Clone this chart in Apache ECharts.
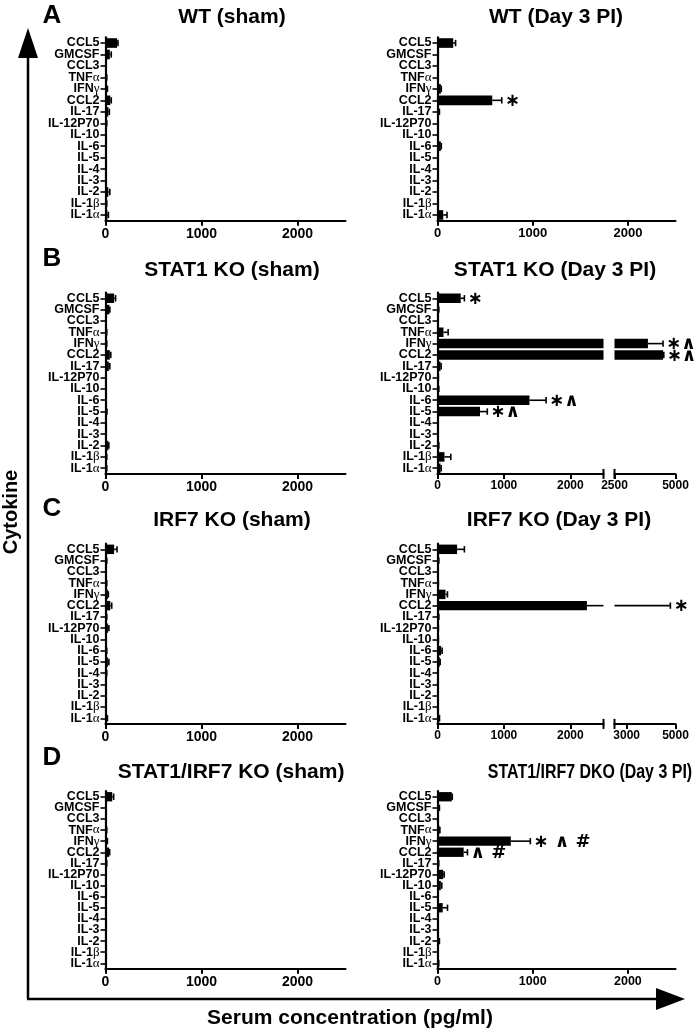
<!DOCTYPE html>
<html><head><meta charset="utf-8">
<script src="https://cdn.jsdelivr.net/npm/echarts@6/dist/echarts.min.js"></script>
<style>html,body{margin:0;padding:0;background:#fff}#c{width:700px;height:1030px}</style>
</head><body><div id="c"></div><script>
// ---------- DATA ----------
const categories = ['CCL5','GMCSF','CCL3','TNFα','IFNγ','CCL2','IL-17','IL-12P70','IL-10','IL-6','IL-5','IL-4','IL-3','IL-2','IL-1β','IL-1α'];
const xTicksMain = [0, 1000, 2000];
const xTicksBreakB = [2500, 5000];
const xTicksBreakC = [3000, 5000];

const wtShamMean    = [120, 45, 5, 10, 15, 50, 30, 10, 5, 5, 5, 5, 5, 30, 10, 20];
const wtShamErr     = [10, 15, 2, 3, 5, 10, 10, 3, 2, 2, 2, 2, 2, 15, 3, 10];
const wtShamMarks   = ['', '', '', '', '', '', '', '', '', '', '', '', '', '', '', ''];

const wtDay3Mean    = [165, 5, 3, 5, 35, 575, 15, 5, 5, 35, 5, 3, 3, 5, 5, 60];
const wtDay3Err     = [25, 3, 1, 2, 5, 100, 5, 2, 2, 5, 2, 1, 1, 2, 2, 40];
const wtDay3Marks   = ['', '', '', '', '', '*', '', '', '', '', '', '', '', '', '', ''];

const stat1ShamMean = [90, 40, 5, 10, 10, 45, 35, 5, 5, 5, 10, 5, 5, 30, 10, 10];
const stat1ShamErr  = [15, 5, 2, 3, 3, 10, 10, 2, 2, 2, 5, 2, 2, 5, 3, 3];
const stat1ShamMarks= ['', '', '', '', '', '', '', '', '', '', '', '', '', '', '', ''];

const stat1Day3Mean = [350, 15, 5, 90, 3870, 4490, 45, 10, 15, 1385, 640, 5, 5, 15, 105, 45];
const stat1Day3Err  = [55, 5, 2, 70, 620, 30, 10, 3, 5, 250, 110, 2, 2, 5, 95, 10];
const stat1Day3Marks= ['*', '', '', '', '*^', '*^', '', '', '', '*^', '*^', '', '', '', '', ''];

const irf7ShamMean  = [90, 10, 5, 10, 25, 50, 10, 25, 5, 10, 25, 10, 5, 5, 5, 15];
const irf7ShamErr   = [30, 3, 2, 3, 5, 15, 3, 10, 2, 3, 10, 3, 2, 2, 2, 5];
const irf7ShamMarks = ['', '', '', '', '', '', '', '', '', '', '', '', '', '', '', ''];

const irf7Day3Mean  = [295, 15, 5, 10, 120, 2250, 15, 10, 10, 55, 35, 5, 5, 5, 5, 25];
const irf7Day3Err   = [110, 5, 2, 3, 30, 2540, 5, 3, 3, 15, 5, 2, 2, 2, 2, 5];
const irf7Day3Marks = ['', '', '', '', '', '*', '', '', '', '', '', '', '', '', '', ''];

const dkoShamMean   = [70, 5, 5, 10, 15, 38, 10, 5, 5, 5, 5, 5, 5, 5, 5, 5];
const dkoShamErr    = [15, 2, 2, 3, 5, 5, 3, 2, 2, 2, 2, 2, 2, 2, 2, 2];
const dkoShamMarks  = ['', '', '', '', '', '', '', '', '', '', '', '', '', '', '', ''];

const dkoDay3Mean   = [150, 15, 5, 20, 770, 275, 10, 60, 35, 5, 55, 5, 5, 15, 5, 10];
const dkoDay3Err    = [5, 5, 2, 5, 205, 40, 3, 10, 10, 2, 50, 2, 2, 5, 2, 3];
const dkoDay3Marks  = ['', '', '', '', '* ^ #', '^ #', '', '', '', '', '', '', '', '', '', ''];

const panelTitles = ['WT (sham)', 'WT (Day 3 PI)', 'STAT1 KO (sham)', 'STAT1 KO (Day 3 PI)',
  'IRF7 KO (sham)', 'IRF7 KO (Day 3 PI)', 'STAT1/IRF7 KO (sham)', 'STAT1/IRF7 DKO (Day 3 PI)'];
const panelLetters = ['A', 'B', 'C', 'D'];
const yAxisTitle = 'Cytokine';
const xAxisTitle = 'Serum concentration (pg/ml)';

// ---------- LAYOUT ----------
const FONT = '"Liberation Sans", Arial, Helvetica, sans-serif';
const rows = [
  {top: 37.3, h: 183.4, titleY: 17, letterY: 16},
  {top: 292.6, h: 181.3, titleY: 270, letterY: 259},
  {top: 543.7, h: 180.2, titleY: 520, letterY: 509},
  {top: 791.2, h: 177.6, titleY: 772, letterY: 758}
];
const leftSeg = (fs) => [{left: 105.5, width: 240, min: 0, max: 2500, ticks: xTicksMain, fs: fs}];
const rightSeg = (fs) => [{left: 437.5, width: 238, min: 0, max: 2500, ticks: xTicksMain, fs: fs}];
const brokenSeg = (t2) => [
  {left: 437.5, width: 166, min: 0, max: 2500, ticks: xTicksMain, fs: 12, capEnd: true},
  {left: 614.5, width: 61, min: 2500, max: 5000, ticks: t2, fs: 12, capStart: true}
];

const panels = [
  {row: 0, title: panelTitles[0], tx: 232, mean: wtShamMean, err: wtShamErr, marks: wtShamMarks, segs: leftSeg(14)},
  {row: 0, title: panelTitles[1], tx: 556, mean: wtDay3Mean, err: wtDay3Err, marks: wtDay3Marks, segs: rightSeg(13)},
  {row: 1, title: panelTitles[2], tx: 232, mean: stat1ShamMean, err: stat1ShamErr, marks: stat1ShamMarks, segs: leftSeg(14)},
  {row: 1, title: panelTitles[3], tx: 555, mean: stat1Day3Mean, err: stat1Day3Err, marks: stat1Day3Marks, segs: brokenSeg(xTicksBreakB)},
  {row: 2, title: panelTitles[4], tx: 232, mean: irf7ShamMean, err: irf7ShamErr, marks: irf7ShamMarks, segs: leftSeg(14)},
  {row: 2, title: panelTitles[5], tx: 559, mean: irf7Day3Mean, err: irf7Day3Err, marks: irf7Day3Marks, segs: brokenSeg(xTicksBreakC)},
  {row: 3, title: panelTitles[6], tx: 231, mean: dkoShamMean, err: dkoShamErr, marks: dkoShamMarks, segs: leftSeg(14)},
  {row: 3, title: panelTitles[7], tx: 590, mean: dkoDay3Mean, err: dkoDay3Err, marks: dkoDay3Marks, segs: rightSeg(12.5), titleScale: 0.76}
];

const grids = [], xAxes = [], yAxes = [], series = [], graphics = [];
const markText = s => s.replace(/\*/g, '\u2217').replace(/\^/g, '\u2227');

function makeRender(seg, mean, err, marks) {
  return function (params, api) {
    const v = api.value(0), i = api.value(1), e = api.value(2);
    const hi = v + e;
    const lo = Math.max(v, seg.min);
    const hiC = Math.min(hi, seg.max);
    const children = [];
    if (hiC > lo) {
      const p1 = api.coord([lo, i]);
      const p2 = api.coord([hiC, i]);
      children.push({type: 'line', shape: {x1: p1[0], y1: p1[1], x2: p2[0], y2: p2[1]},
        style: {stroke: '#000', lineWidth: 1.6}});
      if (hi <= seg.max) {
        children.push({type: 'line', shape: {x1: p2[0], y1: p2[1] - 3.2, x2: p2[0], y2: p2[1] + 3.2},
          style: {stroke: '#000', lineWidth: 1.6}});
      }
    }
    const m = marks[params.dataIndex];
    if (m && hi >= seg.min && hi <= seg.max) {
      const p = api.coord([hi, i]);
      children.push({type: 'text', style: {text: markText(m), x: p[0] + 3, y: p[1] + 1,
        textAlign: 'left', textVerticalAlign: 'middle',
        font: 'bold 18px "DejaVu Sans", sans-serif', fill: '#000'}});
    }
    return {type: 'group', children: children};
  };
}

panels.forEach(function (p) {
  const r = rows[p.row];
  p.segs.forEach(function (seg, si) {
    const gi = grids.length;
    grids.push({left: seg.left, top: r.top, width: seg.width, height: r.h, outerBoundsMode: 'none'});
    xAxes.push({
      type: 'value', gridIndex: gi, min: seg.min, max: seg.max, interval: 500,
      splitLine: {show: false},
      axisLine: {show: true, lineStyle: {color: '#000', width: 2.2}},
      axisTick: {show: true, length: 5, lineStyle: {color: '#000', width: 2}, customValues: seg.ticks},
      axisLabel: {show: true, customValues: seg.ticks, color: '#000', fontFamily: FONT, fontWeight: 'bold',
        fontSize: seg.fs, margin: 6, formatter: v => String(v)}
    });
    yAxes.push({
      type: 'category', gridIndex: gi, data: categories, inverse: true, show: si === 0,
      axisLine: {show: true, lineStyle: {color: '#000', width: 2.2}},
      axisTick: {show: true, alignWithLabel: true, length: 5, lineStyle: {color: '#000', width: 1.6}},
      axisLabel: {show: true, interval: 0, margin: 6, color: '#000', fontFamily: FONT, fontWeight: 'bold', fontSize: 12.5,
        formatter: v => v.replace(/([αβγ])/g, '{g|$1}'),
        rich: {g: {fontFamily: '"Liberation Serif", "DejaVu Serif", serif', fontWeight: 'normal', fontSize: 13, color: '#000'}}}
    });
    series.push({
      type: 'bar', xAxisIndex: gi, yAxisIndex: gi, barWidth: '84%', clip: true, silent: true,
      itemStyle: {color: '#000'},
      data: p.mean.map(v => v > seg.min ? v : '-')
    });
    series.push({
      type: 'custom', xAxisIndex: gi, yAxisIndex: gi, clip: false, silent: true,
      encode: {x: 0, y: 1},
      data: p.mean.map((v, i) => [v, i, p.err[i]]),
      renderItem: makeRender(seg, p.mean, p.err, p.marks)
    });
    const axY = r.top + r.h;
    if (seg.capEnd) {
      const x = seg.left + seg.width;
      graphics.push({type: 'line', shape: {x1: x, y1: axY - 5, x2: x, y2: axY + 5}, style: {stroke: '#000', lineWidth: 2}});
    }
    if (seg.capStart) {
      const x = seg.left;
      graphics.push({type: 'line', shape: {x1: x, y1: axY - 5, x2: x, y2: axY + 5}, style: {stroke: '#000', lineWidth: 2}});
    }
  });
  graphics.push({type: 'text', x: p.tx, y: r.titleY, scaleX: p.titleScale || 1,
    style: {text: p.title, textAlign: 'center', textVerticalAlign: 'middle',
      font: 'bold 21px ' + FONT, fill: '#000'}});
});

rows.forEach(function (r, k) {
  graphics.push({type: 'text', x: 52, y: r.letterY,
    style: {text: panelLetters[k], textAlign: 'center', textVerticalAlign: 'middle', font: 'bold 26px ' + FONT, fill: '#000'}});
});

// big axes with arrows
graphics.push({type: 'line', shape: {x1: 28, y1: 50, x2: 28, y2: 999}, style: {stroke: '#000', lineWidth: 2.5}});
graphics.push({type: 'polygon', shape: {points: [[28, 28], [18, 58], [38, 58]]}, style: {fill: '#000'}});
graphics.push({type: 'line', shape: {x1: 27, y1: 999, x2: 665, y2: 999}, style: {stroke: '#000', lineWidth: 2.5}});
graphics.push({type: 'polygon', shape: {points: [[685, 999], [656, 988], [656, 1010]]}, style: {fill: '#000'}});
graphics.push({type: 'text', x: 11, y: 512, rotation: Math.PI / 2,
  style: {text: yAxisTitle, textAlign: 'center', textVerticalAlign: 'middle', font: 'bold 20px ' + FONT, fill: '#000'}});
graphics.push({type: 'text', x: 350, y: 1018,
  style: {text: xAxisTitle, textAlign: 'center', textVerticalAlign: 'middle', font: 'bold 21px ' + FONT, fill: '#000'}});

const chart = echarts.init(document.getElementById('c'), null, {renderer: 'canvas'});
chart.setOption({
  animation: false,
  backgroundColor: '#fff',
  grid: grids, xAxis: xAxes, yAxis: yAxes, series: series,
  graphic: graphics
});
</script></body></html>
